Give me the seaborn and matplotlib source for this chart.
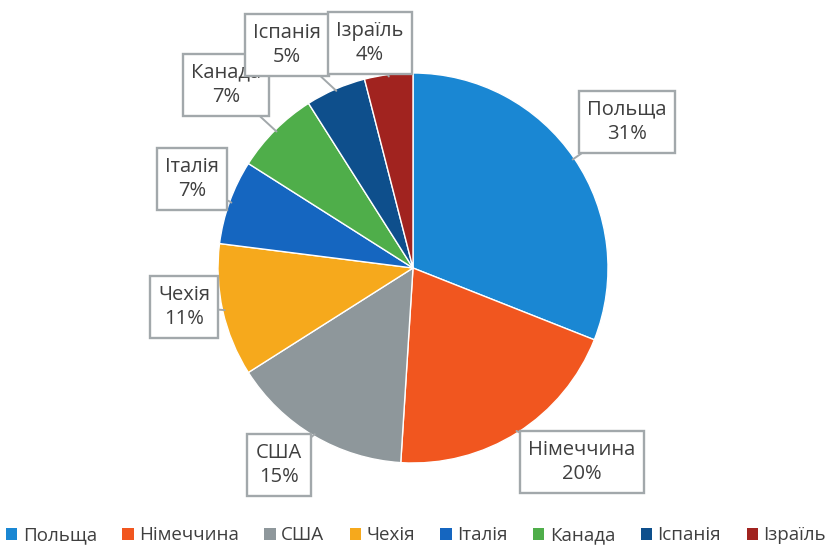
import numpy as np
import matplotlib
matplotlib.use("Agg")
import matplotlib.pyplot as plt
import seaborn as sns
from matplotlib.patches import Patch

# ---- data ----
countries = ["Польща", "Німеччина", "США", "Чехія", "Італія", "Канада", "Іспанія", "Ізраїль"]
shares = [31, 20, 15, 11, 7, 7, 5, 4]
box_labels = ["Польща", "Німеччина", "США", "Чехія", "Італія", "Канада", "Іспанія", "Ізраїль"]
colors = ["#1a87d3", "#f1561f", "#8e979b", "#f6a91c", "#1566c0", "#4fae4a", "#0e4f8c", "#a1231f"]

# ---- layout (pixels) ----
W, H = 832, 546
cx, cy, R = 413, 268, 195
label_pos = [(627, 122), (582, 462), (279, 465), (184, 307), (192, 179),
             (226, 85), (287, 45), (370, 43)]

sns.set_theme(style="white")
plt.rcParams["font.family"] = ["Open Sans", "DejaVu Sans"]

fig = plt.figure(figsize=(W / 100, H / 100), dpi=100)
ax = fig.add_axes([0, 0, 1, 1])
ax.set_xlim(0, W)
ax.set_ylim(0, H)
ax.axis("off")

wedges, _ = ax.pie(shares, colors=colors, startangle=90, counterclock=False,
                   center=(cx, H - cy), radius=R,
                   wedgeprops=dict(edgecolor="white", linewidth=1.0))
ax.set_xlim(0, W)
ax.set_ylim(0, H)

total = sum(shares)
cum = 0
for i, (lab, v) in enumerate(zip(box_labels, shares)):
    mid = cum + v / 2
    cum += v
    ang = np.deg2rad(90 - 360 * mid / total)
    px = cx + R * 0.99 * np.cos(ang)
    py = (H - cy) + R * 0.99 * np.sin(ang)
    tx, ty = label_pos[i]
    ax.annotate(f"{lab}\n{v}%", xy=(px, py), xytext=(tx, H - ty),
                ha="center", va="center", fontsize=14.5, color="#3f3f3f",
                linespacing=1.3, zorder=5 + i,
                bbox=dict(boxstyle="square,pad=0.42", fc="white", ec="#a2a8ab", lw=1.7),
                arrowprops=dict(arrowstyle="-", color="#a2a8ab", lw=1.4,
                                shrinkA=0, shrinkB=0))

handles = [Patch(facecolor=c, edgecolor="none") for c in colors]
fig.legend(handles, countries, loc="lower center", bbox_to_anchor=(0.5, -0.028),
           ncol=8, frameon=False, fontsize=13.5, handlelength=0.6, handleheight=0.6,
           handletextpad=0.3, columnspacing=1.35, labelcolor="#3f3f3f")

fig.savefig("out.png", dpi=100)
